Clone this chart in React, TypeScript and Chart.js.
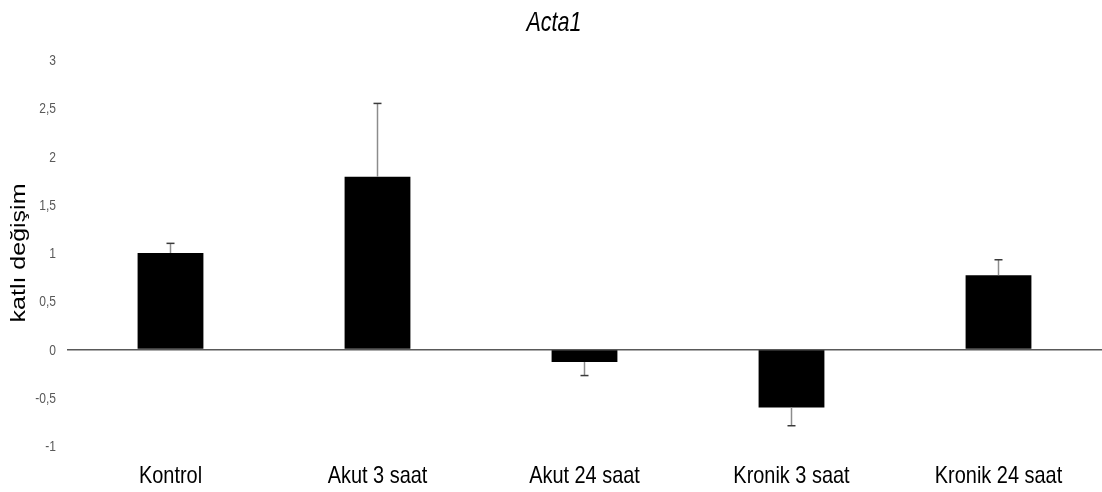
import React, { useEffect, useRef } from "react";
import { Chart, registerables } from "chart.js";

Chart.register(...registerables);

// Fold change of Acta1 per group, with one-sided error bars
const categories = ["Kontrol", "Akut 3 saat", "Akut 24 saat", "Kronik 3 saat", "Kronik 24 saat"];
const foldChange = [1.0, 1.79, -0.13, -0.6, 0.77];
const errorBars = [0.1, 0.76, 0.14, 0.19, 0.16];
const yTicks = [-1, -0.5, 0, 0.5, 1, 1.5, 2, 2.5, 3];
const chartTitle = "Acta1";
const yAxisTitle = "katlı değişim";

const SANS = "'Liberation Sans', Arial, sans-serif";

// Draws text squeezed horizontally to give a condensed face
function narrowText(
  ctx: CanvasRenderingContext2D,
  text: string,
  x: number,
  y: number,
  squeeze: number,
  align: CanvasTextAlign
) {
  ctx.save();
  ctx.translate(x, y);
  ctx.scale(squeeze, 1);
  ctx.textAlign = align;
  ctx.textBaseline = "alphabetic";
  ctx.fillText(text, 0, 0);
  ctx.restore();
}

const errorBarPlugin = {
  id: "errorBars",
  afterDatasetsDraw(chart: any) {
    const { ctx } = chart;
    const y = chart.scales.y;
    const meta = chart.getDatasetMeta(0);
    meta.data.forEach((bar: any, i: number) => {
      const v = foldChange[i];
      const e = errorBars[i];
      const end = v >= 0 ? v + e : v - e;
      const y0 = y.getPixelForValue(v);
      const y1 = y.getPixelForValue(end);
      const x = bar.x;
      ctx.save();
      ctx.strokeStyle = "#8c8c8c";
      ctx.lineWidth = 1.5;
      ctx.beginPath();
      ctx.moveTo(x, y0);
      ctx.lineTo(x, y1);
      ctx.stroke();
      ctx.strokeStyle = "#3a3a3a";
      ctx.lineWidth = 1.5;
      ctx.beginPath();
      ctx.moveTo(x - 4, y1);
      ctx.lineTo(x + 4, y1);
      ctx.stroke();
      ctx.restore();
    });
  },
};

// Title, axis labels and axis title in a condensed style
const textPlugin = {
  id: "condensedText",
  afterDraw(chart: any) {
    const { ctx, chartArea } = chart;
    const xs = chart.scales.x;
    const ys = chart.scales.y;
    ctx.save();

    ctx.fillStyle = "#000";
    ctx.font = `italic 28px ${SANS}`;
    narrowText(ctx, chartTitle, chart.width / 2 + 3, 31, 0.77, "center");

    ctx.font = `24px ${SANS}`;
    categories.forEach((label, i) => {
      narrowText(ctx, label, xs.getPixelForTick(i), chartArea.bottom + 37, 0.83, "center");
    });

    ctx.fillStyle = "#595959";
    ctx.font = `14px ${SANS}`;
    yTicks.forEach((v) => {
      const label = String(v).replace(".", ",");
      narrowText(ctx, label, chartArea.left - 11, ys.getPixelForValue(v) + 5, 0.86, "right");
    });

    ctx.fillStyle = "#000";
    ctx.font = `25px ${SANS}`;
    ctx.save();
    ctx.translate(19, (chartArea.top + chartArea.bottom) / 2);
    ctx.rotate(-Math.PI / 2);
    ctx.scale(1, 0.82);
    ctx.textAlign = "center";
    ctx.textBaseline = "middle";
    ctx.fillText(yAxisTitle, 0, 0);
    ctx.restore();

    ctx.restore();
  },
};

export default function App() {
  const canvasRef = useRef<HTMLCanvasElement | null>(null);

  useEffect(() => {
    if (!canvasRef.current) return;
    const chart = new Chart(canvasRef.current, {
      type: "bar",
      data: {
        labels: categories,
        datasets: [
          {
            data: foldChange,
            backgroundColor: "#000",
            borderWidth: 0,
            barPercentage: 0.318,
            categoryPercentage: 1,
          },
        ],
      },
      options: {
        animation: false,
        responsive: true,
        maintainAspectRatio: false,
        layout: { padding: { top: 60, right: -3, bottom: 0, left: 0 } },
        plugins: {
          legend: { display: false },
          tooltip: { enabled: false },
          title: { display: false },
        },
        scales: {
          x: {
            grid: { display: false, drawTicks: false },
            border: { display: false },
            ticks: { display: false },
            afterFit(scale: any) {
              scale.height = 46;
            },
          },
          y: {
            min: -1,
            max: 3,
            afterBuildTicks(scale: any) {
              scale.ticks = yTicks.map((value) => ({ value }));
            },
            grid: {
              drawTicks: false,
              color: (c: any) => (c.tick && c.tick.value === 0 ? "#595959" : "rgba(0,0,0,0)"),
              lineWidth: 1.5,
            },
            border: { display: false },
            ticks: { display: false },
            afterFit(scale: any) {
              scale.width = 67;
            },
          },
        },
      },
      plugins: [errorBarPlugin, textPlugin],
    });
    return () => chart.destroy();
  }, []);

  return (
    <div style={{ position: "fixed", left: 0, top: 0, width: 1102, height: 492, background: "#fff" }}>
      <canvas ref={canvasRef} />
    </div>
  );
}
